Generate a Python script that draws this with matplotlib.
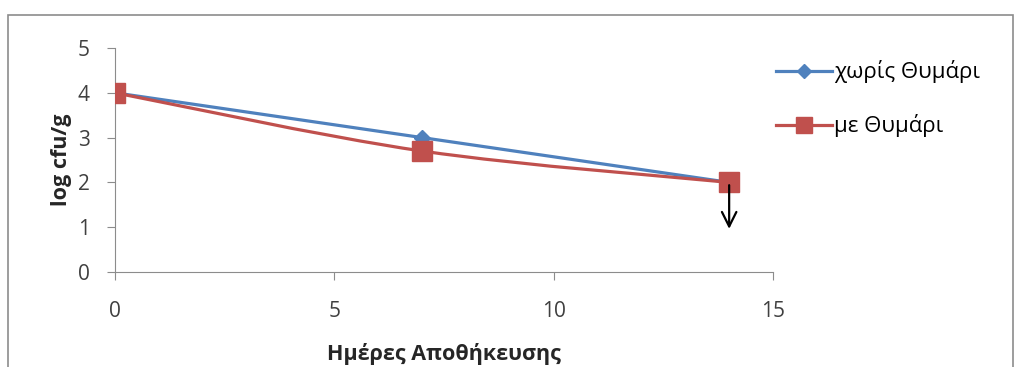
import numpy as np
import matplotlib.pyplot as plt
from matplotlib.path import Path
from matplotlib.patches import PathPatch, Rectangle

plt.rcParams['font.family'] = ['Open Sans', 'DejaVu Sans']

# data
days = [0, 7, 14]
no_thyme = [4.0, 3.0, 2.0]
with_thyme = [4.0, 2.7, 2.0]
labels = ['χωρίς Θυμάρι', 'με Θυμάρι']
arrow_to = 0.9

blue = '#4F81BD'
red = '#C0504D'


def smooth_path(x, y):
    # Excel style smoothed line (Catmull-Rom -> cubic bezier)
    x = np.asarray(x, float)
    y = np.asarray(y, float)
    n = len(x)
    verts = [(x[0], y[0])]
    codes = [Path.MOVETO]
    for i in range(n - 1):
        i0 = max(i - 1, 0)
        i3 = min(i + 2, n - 1)
        c1 = (x[i] + (x[i + 1] - x[i0]) / 6, y[i] + (y[i + 1] - y[i0]) / 6)
        c2 = (x[i + 1] - (x[i3] - x[i]) / 6, y[i + 1] - (y[i3] - y[i]) / 6)
        verts += [c1, c2, (x[i + 1], y[i + 1])]
        codes += [Path.CURVE4] * 3
    return Path(verts, codes)


fig = plt.figure(figsize=(10.15, 3.67), dpi=100)
ax = fig.add_axes([0.1133, 0.2589, 0.6483, 0.6103])

ax.add_patch(PathPatch(smooth_path(days, no_thyme), fill=False, color=blue, lw=2.3, zorder=3))
ax.add_patch(PathPatch(smooth_path(days, with_thyme), fill=False, color=red, lw=2.3, zorder=4))
ax.plot(days, no_thyme, ls='none', marker='D', ms=8, color=blue, zorder=5)
ax.plot(days, with_thyme, ls='none', marker='s', ms=15, color=red, zorder=6)

# legend proxies
h1, = ax.plot([], [], '-', color=blue, lw=2.3, marker='D', ms=7, label=labels[0])
h2, = ax.plot([], [], '-', color=red, lw=2.3, marker='s', ms=11, label=labels[1])
fig.legend(handles=[h1, h2], loc='upper left', bbox_to_anchor=(0.745, 0.89),
           frameon=False, fontsize=16, handlelength=2.5, handletextpad=0.1,
           labelspacing=1.4)

ax.annotate('', xy=(days[-1], arrow_to), xytext=(days[-1], with_thyme[-1]),
            arrowprops=dict(arrowstyle='->', color='black', lw=1.6,
                            mutation_scale=26), zorder=7)

ax.set_xlim(0, 15)
ax.set_ylim(0, 5)
ax.set_xticks([0, 5, 10, 15])
ax.set_yticks([0, 1, 2, 3, 4, 5])
for s in ['top', 'right']:
    ax.spines[s].set_visible(False)
for s in ['left', 'bottom']:
    ax.spines[s].set_color('#8c8c8c')
ax.tick_params(colors='#8c8c8c', labelcolor='#404040', labelsize=15, length=6)
ax.tick_params(axis='x', pad=15)
ax.tick_params(axis='y', pad=12)
ax.set_xlabel('Ημέρες Αποθήκευσης', fontsize=15.5, fontweight='bold', color='#262626', labelpad=15)
ax.set_ylabel('log cfu/g', fontsize=15.5, fontweight='bold', color='#262626', labelpad=4)
for sp in ax.spines.values():
    sp.set_zorder(1)

fig.patches.append(Rectangle((8 / 1015, -0.1), 1 - 10 / 1015, 1.1 - 15 / 367,
                             transform=fig.transFigure, fill=False,
                             edgecolor='#8c8c8c', lw=1.2))

fig.savefig('out.png', dpi=100)
plt.close()
